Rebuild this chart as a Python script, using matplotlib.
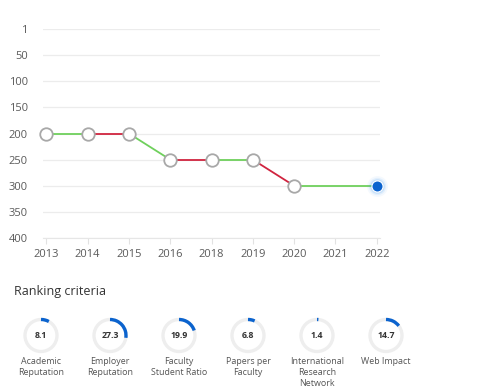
import matplotlib.pyplot as plt
from matplotlib.patches import Circle, Arc

plt.rcParams['font.family'] = ['Open Sans', 'DejaVu Sans']

# ranking history
years = ['2013', '2014', '2015', '2016', '2018', '2019', '2020', '2021', '2022']
ranks = [200, 200, 200, 250, 250, 250, 300, None, 300]
segment_colors = ['#6fd05c', '#d0243f', '#6fd05c', '#d0243f', '#6fd05c', '#d0243f', '#6fd05c']
y_ticks = [0, 50, 100, 150, 200, 250, 300, 350, 400]
y_labels = ['1', '50', '100', '150', '200', '250', '300', '350', '400']

# ranking criteria
criteria = ['Academic\nReputation', 'Employer\nReputation', 'Faculty\nStudent Ratio',
            'Papers per\nFaculty', 'International\nResearch\nNetwork', 'Web Impact']
scores = [8.1, 27.3, 19.9, 6.8, 1.4, 14.7]

W, H = 500, 389
fig = plt.figure(figsize=(W / 100, H / 100), dpi=100)

ax = fig.add_axes([43 / W, 1 - 238 / H, (380 - 43) / W, (238 - 29) / H])
pts = [(i, r) for i, r in enumerate(ranks) if r is not None]
for k in range(len(pts) - 1):
    (x0, y0), (x1, y1) = pts[k], pts[k + 1]
    ax.plot([x0, x1], [y0, y1], color=segment_colors[k], lw=1.3, zorder=2, clip_on=False)
px = [p[0] for p in pts]
py = [p[1] for p in pts]
ax.plot(px[:-1], py[:-1], 'o', ms=9, mfc='white', mec='#a8a8a8', mew=1.3, zorder=3,
        clip_on=False)
# highlighted latest point with glow
for s, a in [(15, 0.06), (12.5, 0.1), (10.5, 0.18)]:
    ax.plot(px[-1], py[-1], 'o', ms=s, color='#4a9cf0', alpha=a, mew=0, zorder=3,
            clip_on=False)
ax.plot(px[-1], py[-1], 'o', ms=8, mfc='#0b63ce', mec='white', mew=0.8, zorder=4,
        clip_on=False)

ax.set_ylim(400, 0)
ax.set_xlim(-0.08, len(years) - 1 + 0.08)
ax.set_yticks(y_ticks)
ax.set_yticklabels(y_labels)
ax.set_xticks(range(len(years)))
ax.set_xticklabels(years)
ax.grid(axis='y', color='#ececec', lw=0.9)
ax.set_axisbelow(True)
for side in ['top', 'right', 'left']:
    ax.spines[side].set_visible(False)
ax.spines['bottom'].set_color('#e6e6e6')
ax.tick_params(axis='y', length=0, pad=11, labelsize=8, labelcolor='#5a5a5a')
ax.tick_params(axis='x', length=4, color='#e2e2e2', pad=4, labelsize=8, labelcolor='#5a5a5a')

fig.text(14 / W, 1 - 292 / H, 'Ranking criteria', fontsize=9, color='#333333', va='center')

gx = fig.add_axes([0, 0, 1, 1])
gx.set_xlim(0, W)
gx.set_ylim(0, H)
gx.axis('off')
cy = H - 335.5
for i, (name, val) in enumerate(zip(criteria, scores)):
    cx = 41 + 69 * i
    gx.add_patch(Circle((cx, cy), 16, fill=False, ec='#eeeeee', lw=2.4))
    gx.add_patch(Arc((cx, cy), 32, 32, theta1=90 - 360 * val / 100, theta2=90,
                     color='#0b63ce', lw=2.4))
    gx.text(cx, cy, f'{val}', ha='center', va='center', fontsize=6.3,
            fontweight='bold', color='#333333')
    gx.text(cx, H - 357, name, ha='center', va='top', fontsize=6.4,
            color='#555555', linespacing=1.25)

fig.savefig('out.png', dpi=100)
